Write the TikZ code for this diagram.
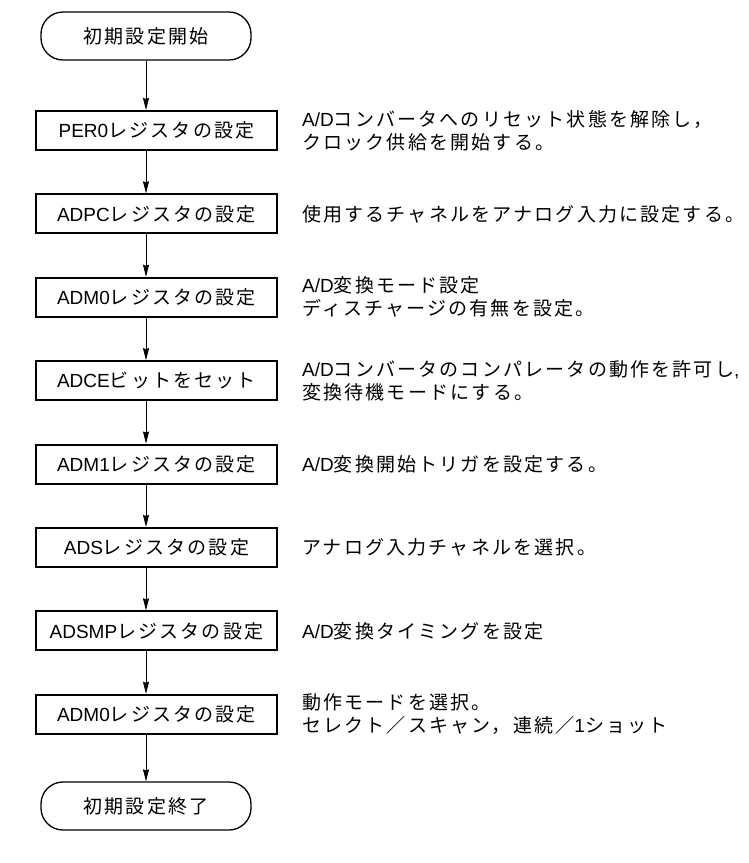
\documentclass[tikz,border=0pt]{standalone}
\usepackage{fontspec}
\setmainfont{Noto Sans CJK JP}[LetterSpace=11.5]
\newfontfamily\lat{Liberation Sans}
\usetikzlibrary{arrows.meta}
\newcommand{\latn}[1]{{\lat #1}}
\tikzset{
  base/.style={font=\fontsize{19pt}{23pt}\selectfont, inner sep=0pt},
  term/.style={base, draw, line width=1.3pt, rounded corners=22pt, minimum width=210pt, minimum height=48pt},
  proc/.style={base, draw, line width=2.1pt, minimum width=241pt, minimum height=39pt},
  note/.style={base, anchor=west, align=left},
  flow/.style={-{Stealth[length=12pt,width=6pt,inset=1pt]}, line width=0.8pt}
}
\begin{document}
\begin{tikzpicture}[x=1pt,y=-1pt]
\useasboundingbox (0,0) rectangle (749,863);
\node[term] (s) at (146,36) {初期設定開始};
\node[proc] (b1) at (156.5,130.5) {\latn{PER0}レジスタの設定};
\node[proc] (b2) at (156.5,213.9) {\latn{ADPC}レジスタの設定};
\node[proc] (b3) at (156.5,297.3) {\latn{ADM0}レジスタの設定};
\node[proc] (b4) at (156.5,380.7) {\latn{ADCE}ビットをセット};
\node[proc] (b5) at (156.5,464.1) {\latn{ADM1}レジスタの設定};
\node[proc] (b6) at (156.5,547.5) {\latn{ADS}レジスタの設定};
\node[proc] (b7) at (156.5,630.9) {\latn{ADSMP}レジスタの設定};
\node[proc] (b8) at (156.5,714.3) {\latn{ADM0}レジスタの設定};
\node[term] (e) at (146,806) {初期設定終了};

\node[note] (t1) at (302,130.5) {\latn{A/D}コンバータへのリセット状態を解除し，\\クロック供給を開始する。};
\node[note] (t2) at (302,213.9) {使用するチャネルをアナログ入力に設定する。};
\node[note] (t3) at (302,297.3) {\latn{A/D}変換モード設定\\ディスチャージの有無を設定。};
\node[note] (t4) at (302,380.7) {\latn{A/D}コンバータのコンパレータの動作を許可し\latn{,}\\変換待機モードにする。};
\node[note] (t5) at (302,464.1) {\latn{A/D}変換開始トリガを設定する。};
\node[note] (t6) at (302,547.5) {アナログ入力チャネルを選択。};
\node[note] (t7) at (302,630.9) {\latn{A/D}変換タイミングを設定};
\node[note] (t8) at (302,714.3) {動作モードを選択。\\セレクト／スキャン，連続／\latn{1}ショット};

\draw[flow] (s) -- (s |- b1.north);
\draw[flow] (b1.south -| s) -- (s |- b2.north);
\draw[flow] (b2.south -| s) -- (s |- b3.north);
\draw[flow] (b3.south -| s) -- (s |- b4.north);
\draw[flow] (b4.south -| s) -- (s |- b5.north);
\draw[flow] (b5.south -| s) -- (s |- b6.north);
\draw[flow] (b6.south -| s) -- (s |- b7.north);
\draw[flow] (b7.south -| s) -- (s |- b8.north);
\draw[flow] (b8.south -| s) -- (e);
\end{tikzpicture}
\end{document}
